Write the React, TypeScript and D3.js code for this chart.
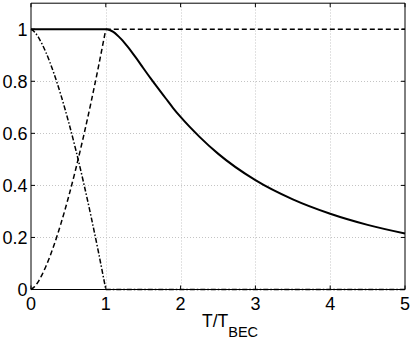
import React from "react";
import * as d3 from "d3";

// Reduced temperature T/T_BEC and curve values
const tLow = [0, 0.05, 0.1, 0.15, 0.2, 0.3, 0.4, 0.5, 0.6, 0.7, 0.8, 0.9, 1.0];
const thermalLow = [0, 0.0112, 0.0316, 0.0581, 0.0894, 0.1643, 0.253, 0.3536, 0.4648, 0.5857, 0.7155, 0.8538, 1.0];
const condensateLow = [1, 0.9888, 0.9684, 0.9419, 0.9106, 0.8357, 0.747, 0.6464, 0.5352, 0.4143, 0.2845, 0.1462, 0];
const tHigh = [1, 5];
const thermalHigh = [1, 1];
const condensateHigh = [0, 0];

const tFug = [0, 1, 1.05, 1.1, 1.15, 1.2, 1.25, 1.3, 1.35, 1.4, 1.5, 1.6, 1.7, 1.8, 1.9, 2, 2.25, 2.5, 3, 3.5, 4, 4.5, 5];
const fugacity = [1, 1, 0.9972, 0.9896, 0.9782, 0.964, 0.9477, 0.93, 0.9112, 0.8917, 0.851, 0.811, 0.7724, 0.7348, 0.6973, 0.663, 0.5875, 0.522, 0.42, 0.3462, 0.291, 0.2483, 0.2151];

const xTicks = [0, 1, 2, 3, 4, 5];
const yTicks = [0, 0.2, 0.4, 0.6, 0.8, 1];
const yTickLabels = ["0", "0.2", "0.4", "0.6", "0.8", "1"];

const W = 415;
const H = 340;
const FONT = "'Liberation Sans', Arial, Helvetica, sans-serif";

export default function App() {
  const x = d3.scaleLinear().domain([0, 5]).range([31, 405]);
  const y = d3.scaleLinear().domain([0, 1.1]).range([289.5, 3.2]);
  const [x0, x1] = x.range();
  const [yb, yt] = y.range();

  const curve = d3
    .line<[number, number]>()
    .x((d) => x(d[0]))
    .y((d) => y(d[1]))
    .curve(d3.curveMonotoneX);
  const straight = d3
    .line<[number, number]>()
    .x((d) => x(d[0]))
    .y((d) => y(d[1]));

  const zip = (a: number[], b: number[]) => a.map((v, i) => [v, b[i]] as [number, number]);

  const thermalPath = (curve(zip(tLow, thermalLow)) || "") + (straight(zip(tHigh, thermalHigh)) || "");
  const condPath = (curve(zip(tLow, condensateLow)) || "") + (straight(zip(tHigh, condensateHigh)) || "");
  const fugPath = curve(zip(tFug, fugacity)) || "";

  const tickLen = 4;

  return (
    <svg
      width={W}
      height={H}
      style={{ position: "absolute", left: 0, top: 0, background: "#fff" }}
      xmlns="http://www.w3.org/2000/svg"
    >
      <rect x={0} y={0} width={W} height={H} fill="#fff" />
      {/* grid */}
      <g stroke="#c4c4c4" strokeWidth={1} strokeDasharray="1,2">
        {xTicks.slice(1, -1).map((t) => (
          <line key={"gx" + t} x1={Math.round(x(t)) + 0.5} x2={Math.round(x(t)) + 0.5} y1={yb} y2={yt} />
        ))}
        {yTicks.slice(1, -1).map((t) => (
          <line key={"gy" + t} x1={x0} x2={x1} y1={Math.round(y(t)) + 0.5} y2={Math.round(y(t)) + 0.5} />
        ))}
      </g>
      {/* ticks */}
      <g stroke="#000" strokeWidth={1}>
        {xTicks.map((t) => (
          <g key={"tx" + t}>
            <line x1={x(t)} x2={x(t)} y1={yb} y2={yb - tickLen} />
            <line x1={x(t)} x2={x(t)} y1={yt} y2={yt + tickLen} />
          </g>
        ))}
        {yTicks.map((t) => (
          <g key={"ty" + t}>
            <line x1={x0} x2={x0 + tickLen} y1={y(t)} y2={y(t)} />
            <line x1={x1} x2={x1 - tickLen} y1={y(t)} y2={y(t)} />
          </g>
        ))}
      </g>
      {/* curves */}
      <g fill="none" stroke="#000" strokeLinejoin="round">
        <path d={thermalPath} strokeWidth={1.5} strokeDasharray="5,3" />
        <path d={condPath} strokeWidth={1.5} strokeDasharray="5,2,1.5,2" />
        <path d={fugPath} strokeWidth={2} />
      </g>
      {/* box */}
      <g stroke="#000" strokeWidth={1} fill="none">
        <line x1={x0} x2={x0} y1={yb} y2={yt} />
        <line x1={x1} x2={x1} y1={yb} y2={yt} />
        <line x1={x0} x2={x1} y1={yt} y2={yt} />
        <line x1={x0} x2={x1} y1={yb} y2={yb} />
      </g>
      {/* tick labels */}
      <g fontFamily={FONT} fontSize={18} fill="#000">
        {xTicks.map((t) => (
          <text key={"lx" + t} x={x(t)} y={309.5} textAnchor="middle">
            {String(t)}
          </text>
        ))}
        {yTicks.map((t, i) => (
          <text key={"ly" + t} x={27.5} y={y(t) + 6.5} textAnchor="end">
            {yTickLabels[i]}
          </text>
        ))}
      </g>
      {/* x label */}
      <text x={202} y={326.5} fontFamily={FONT} fontSize={17.5} fill="#000">
        T/T
        <tspan fontSize={14.5} dy={10}>
          BEC
        </tspan>
      </text>
    </svg>
  );
}
